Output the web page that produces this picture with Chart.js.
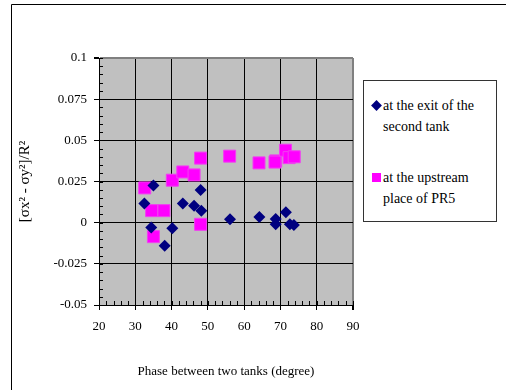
<!DOCTYPE html>
<html>
<head>
<meta charset="utf-8">
<script src="https://cdn.jsdelivr.net/npm/chart.js@4"></script>
<style>
    body { margin: 0; background: #fff; }
    #wrap { position: relative; width: 506px; height: 390px; }
    #legend {
        position: absolute; left: 363px; top: 80px; width: 132px; height: 140px;
        border: 1px solid #333; background: #fff;
        font-family: "Liberation Serif", serif; font-size: 14px; color: #000;
    }
    .item { position: absolute; left: 8px; line-height: 21px; }
    .mark { position: absolute; left: 0; top: 6px; width: 9px; height: 9px; }
    .txt { position: absolute; left: 11px; white-space: nowrap; }
</style>
</head>
<body>
<div id="wrap">
    <canvas id="chart" width="506" height="390"></canvas>
    <div id="legend"></div>
</div>
<script>
const xTicks = [20, 30, 40, 50, 60, 70, 80, 90];
const yTicks = [-0.05, -0.025, 0, 0.025, 0.05, 0.075, 0.1];

const exitX = [35.0, 48.0, 32.5, 43.1, 46.2, 48.2, 56.1, 64.2, 68.7, 68.7, 71.5, 72.6, 73.7, 34.4, 40.2, 38.1];
const exitY = [0.0225, 0.0199, 0.0116, 0.0116, 0.0102, 0.0073, 0.002, 0.0035, 0.0023, -0.001, 0.0063, -0.001, -0.0014, -0.003, -0.0034, -0.014];

const upX = [32.6, 40.2, 43.1, 46.2, 48.0, 56.0, 64.1, 68.7, 68.5, 71.4, 72.4, 73.8, 34.5, 37.9, 48.0, 35.0];
const upY = [0.0211, 0.0258, 0.0308, 0.029, 0.0392, 0.0404, 0.0363, 0.0375, 0.0368, 0.044, 0.0395, 0.04, 0.0073, 0.0073, -0.001, -0.0085];

const seriesNames = [["at the exit of the", "second tank"], ["at the upstream", "place of PR5"]];

const toPoints = (xs, ys) => xs.map((x, i) => ({ x: x, y: ys[i] }));

// gray plot background, minor ticks, frame
const decor = {
    id: 'decor',
    beforeDraw(chart) {
        const { ctx, chartArea: a } = chart;
        ctx.save();
        ctx.fillStyle = '#c0c0c0';
        ctx.fillRect(a.left, a.top, a.right - a.left, a.bottom - a.top);
        ctx.restore();
    },
    afterDraw(chart) {
        const { ctx, chartArea: a, scales } = chart;
        ctx.save();
        ctx.strokeStyle = '#000';
        ctx.lineWidth = 1;
        ctx.beginPath();
        for (let v = -0.05; v <= 0.1001; v += 0.005) {
            const y = Math.round(scales.y.getPixelForValue(v)) + 0.5;
            ctx.moveTo(a.left, y);
            ctx.lineTo(a.left + 4, y);
        }
        for (let v = 20; v <= 90; v += 2) {
            const x = Math.round(scales.x.getPixelForValue(v)) + 0.5;
            ctx.moveTo(x, a.bottom);
            ctx.lineTo(x, a.bottom - 4);
        }
        ctx.stroke();
        // outer frame
        ctx.beginPath();
        ctx.moveTo(11.5, 390);
        ctx.lineTo(11.5, 4.5);
        ctx.lineTo(506, 4.5);
        ctx.stroke();
        ctx.restore();
    }
};

const ctx = document.getElementById('chart').getContext('2d');
const myChart = new Chart(ctx, {
    type: 'scatter',
    data: {
        datasets: [{
            label: seriesNames[0].join(' '),
            data: toPoints(exitX, exitY),
            pointStyle: 'rectRot',
            pointRadius: 6,
            backgroundColor: '#000080',
            borderColor: '#000080',
            borderWidth: 0
        }, {
            label: seriesNames[1].join(' '),
            data: toPoints(upX, upY),
            pointStyle: 'rect',
            pointRadius: 8.5,
            backgroundColor: '#ff00ff',
            borderColor: '#f040f0',
            borderWidth: 1
        }]
    },
    options: {
        responsive: false,
        animation: false,
        layout: { padding: { left: 0, top: 58, right: 153, bottom: 0 } },
        plugins: { legend: { display: false }, tooltip: { enabled: false } },
        scales: {
            x: {
                type: 'linear', min: 20, max: 90,
                afterBuildTicks: s => { s.ticks = xTicks.map(v => ({ value: v })); },
                afterFit: s => { s.height = 85; },
                grid: {
                    color: c => c.tick && c.tick.value === 90 ? '#808080' : '#000',
                    lineWidth: c => c.tick && c.tick.value === 90 ? 2 : 1,
                    tickColor: '#000', tickLength: 5
                },
                border: { color: '#000', width: 1 },
                ticks: { color: '#000', padding: 9, font: { family: 'Liberation Serif', size: 13 } },
                title: {
                    display: true, text: 'Phase between two tanks (degree)', color: '#000',
                    padding: { top: 0, bottom: 11 }, font: { family: 'Liberation Serif', size: 13 }
                }
            },
            y: {
                type: 'linear', min: -0.05, max: 0.1,
                afterBuildTicks: s => { s.ticks = yTicks.map(v => ({ value: v })); },
                afterFit: s => { s.width = 99; },
                grid: {
                    color: c => c.tick && c.tick.value === 0.1 ? '#808080' : '#000',
                    lineWidth: c => c.tick && c.tick.value === 0.1 ? 2 : 1,
                    tickColor: '#000', tickLength: 5
                },
                border: { color: '#000', width: 1 },
                ticks: {
                    color: '#000', padding: 7, font: { family: 'Liberation Serif', size: 13 },
                    callback: v => String(v)
                },
                title: {
                    display: true, text: '[σx² - σy²]/R²', color: '#000',
                    padding: { top: 16, bottom: 0 }, font: { family: 'Liberation Serif', size: 15 }
                }
            }
        }
    },
    plugins: [decor]
});

// legend box
const legend = document.getElementById('legend');
const marks = [
    'background:#000080;transform:rotate(45deg) scale(0.85);',
    'background:#ff00ff;'
];
const tops = [14, 86];
seriesNames.forEach((lines, i) => {
    const item = document.createElement('div');
    item.className = 'item';
    item.style.top = tops[i] + 'px';
    item.innerHTML = '<div class="mark" style="' + marks[i] + '"></div>' +
        '<div class="txt">' + lines.join('<br>') + '</div>';
    legend.appendChild(item);
});
</script>
</body>
</html>
